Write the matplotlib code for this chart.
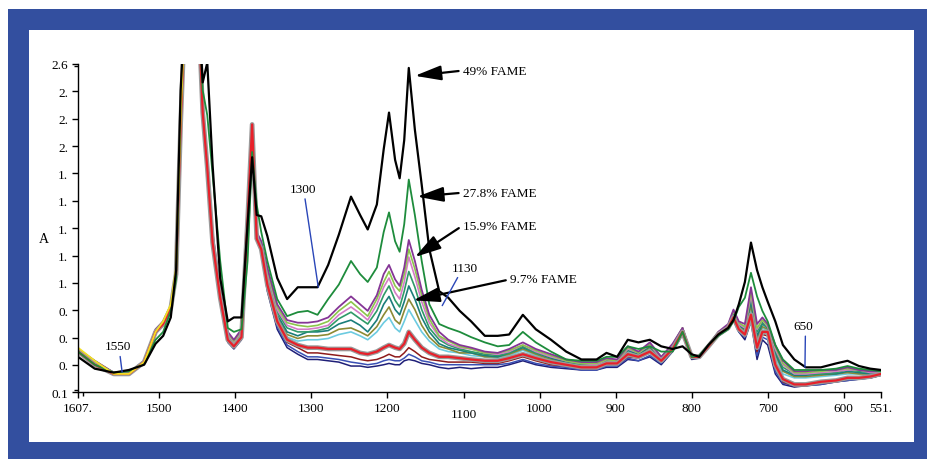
import numpy as np
import matplotlib.pyplot as plt
import matplotlib.patheffects as pe
from matplotlib.patches import Rectangle
from matplotlib.transforms import ScaledTranslation

plt.rcParams['font.family'] = ['Liberation Serif', 'DejaVu Serif']

# wavenumber grid (cm-1) the spectra were read at
wavenumber = [1607, 1585, 1560, 1540, 1520, 1505, 1495, 1485, 1478, 1472,
              1465, 1450, 1443, 1437, 1430, 1420, 1410, 1402, 1392, 1384,
              1378, 1372, 1366, 1358, 1345, 1332, 1318, 1305, 1292, 1278,
              1264, 1248, 1236, 1226, 1214, 1205, 1198, 1190, 1184, 1178,
              1172, 1164, 1155, 1145, 1132, 1120, 1105, 1090, 1072, 1055,
              1040, 1022, 1005, 985, 965, 945, 925, 912, 898, 884,
              870, 855, 840, 825, 812, 800, 790, 778, 765, 752,
              745, 738, 730, 722, 714, 707, 700, 690, 680, 665,
              650, 630, 610, 595, 580, 565, 551]

# 49% FAME (black)
spec_black = [0.37, 0.28, 0.25, 0.27, 0.31, 0.47, 0.53, 0.67, 1.03, 2.40,
              3.2, 3.2, 2.46, 2.61, 1.83, 0.97, 0.64, 0.67, 0.67, 1.38,
              1.89, 1.45, 1.44, 1.29, 0.97, 0.81, 0.90, 0.90, 0.90, 1.07,
              1.30, 1.59, 1.45, 1.34, 1.53, 1.95, 2.23, 1.87, 1.73, 2.02,
              2.57, 2.10, 1.68, 1.19, 0.87, 0.82, 0.72, 0.64, 0.53, 0.53,
              0.54, 0.69, 0.58, 0.50, 0.41, 0.35, 0.35, 0.40, 0.37, 0.50,
              0.48, 0.50, 0.45, 0.43, 0.45, 0.39, 0.37, 0.46, 0.54, 0.59,
              0.65, 0.77, 0.94, 1.24, 1.03, 0.90, 0.79, 0.64, 0.46, 0.35,
              0.29, 0.29, 0.32, 0.34, 0.30, 0.28, 0.27]
# 27.8% FAME (green)
spec_green = [0.41, 0.31, 0.25, 0.26, 0.32, 0.50, 0.56, 0.72, 0.96, 2.25,
              3.2, 3.2, 2.40, 2.21, 1.76, 1.10, 0.59, 0.56, 0.58, 1.10,
              1.93, 1.53, 1.32, 1.10, 0.81, 0.68, 0.71, 0.72, 0.69, 0.81,
              0.92, 1.10, 1.00, 0.94, 1.05, 1.32, 1.47, 1.25, 1.17, 1.38,
              1.72, 1.45, 1.10, 0.77, 0.62, 0.59, 0.56, 0.52, 0.48, 0.45,
              0.46, 0.56, 0.48, 0.41, 0.35, 0.34, 0.34, 0.37, 0.37, 0.45,
              0.43, 0.45, 0.41, 0.41, 0.56, 0.37, 0.38, 0.46, 0.53, 0.58,
              0.64, 0.75, 0.82, 1.01, 0.83, 0.72, 0.64, 0.46, 0.35, 0.27,
              0.27, 0.27, 0.28, 0.30, 0.28, 0.27, 0.26]
spec_purple = [0.43, 0.34, 0.25, 0.25, 0.34, 0.58, 0.64, 0.76, 1.02, 2.17,
               3.2, 3.2, 2.25, 1.87, 1.32, 0.88, 0.56, 0.50, 0.58, 1.45,
               2.02, 1.32, 1.25, 1.05, 0.77, 0.65, 0.63, 0.63, 0.64, 0.67,
               0.75, 0.83, 0.77, 0.72, 0.84, 1.00, 1.07, 0.96, 0.91, 1.05,
               1.26, 1.10, 0.88, 0.69, 0.56, 0.50, 0.46, 0.44, 0.41, 0.40,
               0.43, 0.48, 0.43, 0.39, 0.35, 0.33, 0.33, 0.36, 0.35, 0.45,
               0.41, 0.48, 0.37, 0.47, 0.59, 0.38, 0.38, 0.46, 0.56, 0.62,
               0.73, 0.64, 0.62, 0.90, 0.62, 0.67, 0.62, 0.46, 0.34, 0.26,
               0.26, 0.27, 0.27, 0.29, 0.27, 0.26, 0.26]
spec_lightgreen = [0.43, 0.34, 0.25, 0.25, 0.34, 0.58, 0.64, 0.76, 1.02, 2.17,
                   3.2, 3.2, 2.25, 1.86, 1.31, 0.87, 0.55, 0.49, 0.57, 1.45,
                   2.04, 1.31, 1.24, 1.03, 0.75, 0.63, 0.61, 0.60, 0.61, 0.64,
                   0.72, 0.79, 0.73, 0.68, 0.81, 0.94, 1.02, 0.91, 0.87, 1.00,
                   1.19, 1.04, 0.84, 0.66, 0.53, 0.49, 0.45, 0.43, 0.40, 0.40,
                   0.42, 0.46, 0.42, 0.38, 0.34, 0.32, 0.32, 0.35, 0.34, 0.44,
                   0.40, 0.47, 0.37, 0.46, 0.59, 0.38, 0.38, 0.46, 0.56, 0.61,
                   0.72, 0.63, 0.60, 0.87, 0.59, 0.65, 0.61, 0.45, 0.32, 0.25,
                   0.25, 0.26, 0.27, 0.28, 0.27, 0.26, 0.26]
spec_pink = [0.42, 0.33, 0.25, 0.25, 0.34, 0.57, 0.63, 0.75, 1.01, 2.16,
             3.2, 3.2, 2.24, 1.85, 1.30, 0.86, 0.54, 0.48, 0.56, 1.44,
             2.05, 1.31, 1.23, 1.01, 0.73, 0.61, 0.58, 0.58, 0.59, 0.61,
             0.69, 0.75, 0.70, 0.65, 0.77, 0.90, 0.97, 0.86, 0.81, 0.94,
             1.13, 0.98, 0.79, 0.63, 0.52, 0.47, 0.44, 0.43, 0.40, 0.39,
             0.41, 0.46, 0.41, 0.37, 0.34, 0.32, 0.31, 0.35, 0.34, 0.43,
             0.40, 0.46, 0.36, 0.46, 0.59, 0.37, 0.38, 0.46, 0.55, 0.61,
             0.72, 0.62, 0.59, 0.84, 0.58, 0.65, 0.60, 0.43, 0.31, 0.24,
             0.24, 0.25, 0.26, 0.27, 0.27, 0.25, 0.25]
spec_teal = [0.42, 0.33, 0.25, 0.25, 0.33, 0.57, 0.63, 0.75, 1.01, 2.16,
             3.2, 3.2, 2.24, 1.85, 1.28, 0.86, 0.53, 0.48, 0.55, 1.44,
             2.05, 1.30, 1.22, 1.00, 0.71, 0.59, 0.56, 0.56, 0.57, 0.59,
             0.66, 0.71, 0.66, 0.62, 0.72, 0.84, 0.91, 0.80, 0.75, 0.87,
             1.02, 0.90, 0.73, 0.59, 0.50, 0.46, 0.43, 0.41, 0.39, 0.38,
             0.40, 0.45, 0.40, 0.37, 0.34, 0.31, 0.31, 0.34, 0.34, 0.43,
             0.40, 0.46, 0.36, 0.46, 0.59, 0.37, 0.37, 0.46, 0.55, 0.60,
             0.71, 0.62, 0.59, 0.82, 0.56, 0.63, 0.59, 0.42, 0.29, 0.24,
             0.24, 0.24, 0.25, 0.27, 0.26, 0.25, 0.25]
spec_darkteal = [0.42, 0.32, 0.25, 0.25, 0.33, 0.57, 0.63, 0.75, 1.01, 2.16,
                 3.2, 3.2, 2.24, 1.84, 1.27, 0.85, 0.53, 0.47, 0.55, 1.43,
                 2.06, 1.29, 1.22, 0.98, 0.69, 0.56, 0.53, 0.56, 0.56, 0.57,
                 0.62, 0.65, 0.61, 0.56, 0.65, 0.77, 0.83, 0.73, 0.69, 0.79,
                 0.91, 0.81, 0.67, 0.56, 0.47, 0.44, 0.42, 0.40, 0.38, 0.37,
                 0.40, 0.44, 0.40, 0.36, 0.33, 0.31, 0.31, 0.34, 0.34, 0.42,
                 0.39, 0.45, 0.35, 0.45, 0.58, 0.37, 0.37, 0.46, 0.55, 0.60,
                 0.70, 0.61, 0.58, 0.79, 0.53, 0.62, 0.59, 0.40, 0.27, 0.23,
                 0.23, 0.24, 0.24, 0.26, 0.25, 0.24, 0.25]
spec_olive = [0.41, 0.32, 0.25, 0.25, 0.33, 0.57, 0.62, 0.75, 1.00, 2.16,
              3.2, 3.2, 2.23, 1.83, 1.26, 0.84, 0.52, 0.46, 0.54, 1.42,
              2.07, 1.29, 1.21, 0.96, 0.67, 0.54, 0.51, 0.53, 0.53, 0.54,
              0.58, 0.59, 0.56, 0.53, 0.60, 0.69, 0.75, 0.65, 0.62, 0.72,
              0.81, 0.73, 0.61, 0.52, 0.45, 0.43, 0.40, 0.40, 0.37, 0.37,
              0.39, 0.43, 0.39, 0.35, 0.33, 0.31, 0.31, 0.34, 0.33, 0.42,
              0.39, 0.44, 0.35, 0.45, 0.58, 0.37, 0.37, 0.46, 0.54, 0.59,
              0.69, 0.60, 0.57, 0.76, 0.51, 0.60, 0.58, 0.39, 0.26, 0.22,
              0.22, 0.23, 0.24, 0.25, 0.24, 0.24, 0.24]
spec_cyan = [0.41, 0.32, 0.24, 0.24, 0.33, 0.56, 0.62, 0.74, 1.00, 2.15,
             3.2, 3.2, 2.23, 1.82, 1.25, 0.83, 0.51, 0.46, 0.53, 1.42,
             2.08, 1.28, 1.20, 0.94, 0.65, 0.52, 0.49, 0.50, 0.50, 0.51,
             0.54, 0.56, 0.53, 0.50, 0.56, 0.63, 0.67, 0.59, 0.56, 0.64,
             0.73, 0.65, 0.56, 0.49, 0.43, 0.41, 0.40, 0.38, 0.37, 0.36,
             0.38, 0.42, 0.38, 0.34, 0.32, 0.31, 0.30, 0.33, 0.33, 0.41,
             0.38, 0.43, 0.34, 0.44, 0.57, 0.37, 0.37, 0.46, 0.54, 0.59,
             0.69, 0.59, 0.56, 0.73, 0.49, 0.59, 0.57, 0.37, 0.24, 0.21,
             0.21, 0.22, 0.23, 0.24, 0.24, 0.24, 0.24]
spec_red = [0.41, 0.31, 0.24, 0.24, 0.33, 0.56, 0.62, 0.74, 1.00, 2.15,
            3.2, 3.2, 2.23, 1.81, 1.24, 0.82, 0.50, 0.45, 0.52, 1.41,
            2.14, 1.27, 1.19, 0.92, 0.64, 0.50, 0.46, 0.44, 0.44, 0.43,
            0.43, 0.43, 0.40, 0.39, 0.41, 0.44, 0.46, 0.44, 0.43, 0.47,
            0.56, 0.50, 0.44, 0.40, 0.37, 0.37, 0.36, 0.35, 0.34, 0.34,
            0.36, 0.39, 0.36, 0.33, 0.31, 0.29, 0.29, 0.32, 0.32, 0.39,
            0.37, 0.41, 0.34, 0.43, 0.56, 0.37, 0.37, 0.45, 0.54, 0.59,
            0.67, 0.58, 0.54, 0.69, 0.44, 0.56, 0.56, 0.31, 0.20, 0.16,
            0.16, 0.18, 0.19, 0.21, 0.21, 0.22, 0.24]
spec_darkred = [0.40, 0.31, 0.24, 0.24, 0.32, 0.56, 0.61, 0.74, 1.00, 2.15,
                3.2, 3.2, 2.22, 1.80, 1.22, 0.81, 0.50, 0.44, 0.52, 1.41,
                2.11, 1.27, 1.19, 0.91, 0.62, 0.48, 0.44, 0.40, 0.40, 0.39,
                0.38, 0.37, 0.35, 0.34, 0.35, 0.37, 0.39, 0.37, 0.37, 0.40,
                0.44, 0.41, 0.37, 0.35, 0.34, 0.33, 0.33, 0.33, 0.32, 0.32,
                0.34, 0.37, 0.34, 0.31, 0.30, 0.28, 0.28, 0.31, 0.31, 0.37,
                0.36, 0.40, 0.33, 0.43, 0.56, 0.36, 0.37, 0.45, 0.53, 0.59,
                0.66, 0.57, 0.53, 0.67, 0.41, 0.54, 0.53, 0.29, 0.18, 0.15,
                0.15, 0.17, 0.18, 0.20, 0.21, 0.21, 0.23]
spec_blue = [0.40, 0.31, 0.24, 0.24, 0.32, 0.55, 0.61, 0.73, 0.99, 2.14,
             3.2, 3.2, 2.22, 1.79, 1.21, 0.80, 0.49, 0.44, 0.51, 1.40,
             2.11, 1.26, 1.18, 0.89, 0.60, 0.46, 0.41, 0.37, 0.37, 0.36,
             0.35, 0.33, 0.32, 0.31, 0.32, 0.34, 0.35, 0.34, 0.34, 0.36,
             0.39, 0.37, 0.34, 0.33, 0.31, 0.31, 0.31, 0.31, 0.31, 0.31,
             0.32, 0.35, 0.32, 0.30, 0.29, 0.27, 0.27, 0.30, 0.30, 0.36,
             0.34, 0.38, 0.32, 0.42, 0.55, 0.36, 0.37, 0.45, 0.53, 0.58,
             0.65, 0.56, 0.52, 0.65, 0.38, 0.52, 0.50, 0.26, 0.17, 0.15,
             0.15, 0.16, 0.18, 0.19, 0.20, 0.21, 0.23]
spec_navy = [0.40, 0.31, 0.24, 0.24, 0.32, 0.55, 0.61, 0.73, 0.99, 2.14,
             3.2, 3.2, 2.21, 1.78, 1.20, 0.79, 0.48, 0.43, 0.50, 1.40,
             2.10, 1.26, 1.17, 0.87, 0.58, 0.44, 0.39, 0.35, 0.35, 0.34,
             0.33, 0.30, 0.30, 0.29, 0.30, 0.31, 0.32, 0.31, 0.31, 0.34,
             0.35, 0.34, 0.32, 0.31, 0.29, 0.28, 0.29, 0.28, 0.29, 0.29,
             0.31, 0.34, 0.31, 0.29, 0.28, 0.27, 0.27, 0.29, 0.29, 0.35,
             0.34, 0.37, 0.31, 0.41, 0.54, 0.35, 0.36, 0.44, 0.53, 0.58,
             0.65, 0.56, 0.50, 0.64, 0.35, 0.50, 0.46, 0.24, 0.16, 0.14,
             0.15, 0.16, 0.18, 0.19, 0.20, 0.21, 0.23]
# yellow trace, only visible on the high-wavenumber side
yellow_wavenumber = [1607, 1585, 1560, 1540, 1520, 1505, 1495, 1485, 1478, 1472, 1465]
spec_yellow = [0.44, 0.34, 0.24, 0.24, 0.33, 0.56, 0.64, 0.77, 1.05, 2.21, 3.2]

x_ticks = [1607, 1500, 1400, 1300, 1200, 1100, 1000, 900, 800, 700, 600, 551]
x_labels = ['1607.', '1500', '1400', '1300', '1200', '1100', '1000', '900',
            '800', '700', '600', '551.']
y_labels = ['0.1', '0.', '0.', '0.', '1.', '1.', '1.', '1.', '1.',
            '2.', '2.', '2.', '2.6']

W, H = 928, 460
fig = plt.figure(figsize=(W / 100, H / 100), dpi=100)
fig.patch.set_facecolor('white')
# blue frame with white panel
fig.add_artist(Rectangle((8 / W, 0), 1 - 8 / W, (H - 10) / H, transform=fig.transFigure,
                         facecolor='#334f9f', edgecolor='none', zorder=-2))
fig.add_artist(Rectangle((29 / W, (H - 443) / H), (914 - 29) / W, (443 - 31) / H,
                         transform=fig.transFigure, facecolor='white',
                         edgecolor='none', zorder=-1))

ax = fig.add_axes([78 / W, (H - 393.3) / H, 803 / W, 328.3 / H])
ax.set_facecolor('none')

traces = [
    (spec_navy, '#1f1f78', 1.1),
    (spec_blue, '#3a50b4', 1.1),
    (spec_darkred, '#8e1b1b', 1.1),
    (spec_cyan, '#6ccbe0', 1.2),
    (spec_olive, '#8c8a34', 1.2),
    (spec_darkteal, '#1b7d7a', 1.2),
    (spec_teal, '#2f9a68', 1.2),
    (spec_pink, '#d47cc6', 1.2),
    (spec_lightgreen, '#8cc64a', 1.2),
    (spec_purple, '#853596', 1.3),
]
for vals, col, lw in traces:
    ax.plot(wavenumber, vals, color=col, lw=lw)

ax.plot(wavenumber, spec_red, color='#e8202a', lw=1.6,
        path_effects=[pe.Stroke(linewidth=3.4, foreground='#9a9a9a'), pe.Normal()])
ax.plot(wavenumber, spec_green, color='#1e8c3c', lw=1.3)
ax.plot(yellow_wavenumber, spec_yellow, color='#f2e024', lw=1.3)
ax.plot(wavenumber, spec_black, color='black', lw=1.6)

ax.set_xlim(1607, 551)
ax.set_ylim(0.1, 2.6)
ax.set_xticks(x_ticks)
ax.set_xticklabels(x_labels)
ax.set_yticks(np.linspace(0.1, 2.6, 13))
ax.set_yticklabels(y_labels)
ax.set_yticks([0.118, 2.582], minor=True)
ax.set_xticks([1601], minor=True)

for s in ['top', 'right']:
    ax.spines[s].set_visible(False)
for s in ['left', 'bottom']:
    ax.spines[s].set_linewidth(1.0)
ax.tick_params(which='major', direction='out', length=4, width=1, labelsize=9.5, pad=3)
ax.tick_params(which='minor', direction='out', length=3, width=1)

# the 1100 label sits a little lower in the original
for lab in ax.get_xticklabels():
    if lab.get_text() == '1100':
        lab.set_transform(lab.get_transform() + ScaledTranslation(0, -4 / 72, fig.dpi_scale_trans))

fig.text(44 / W, 1 - 240 / H, 'A', fontsize=10, ha='center', va='center')

# FAME arrows
arrow = dict(arrowstyle='-|>,head_length=1.6,head_width=0.45', color='black',
             lw=1.6, mutation_scale=10, shrinkA=1, shrinkB=0, relpos=(0, 0.5))
ax.annotate('49% FAME', xy=(1164, 2.51), xytext=(1101, 2.55), fontsize=9.5,
            va='center', ha='left', arrowprops=arrow)
ax.annotate('27.8% FAME', xy=(1161, 1.59), xytext=(1101, 1.62), fontsize=9.5,
            va='center', ha='left', arrowprops=arrow)
ax.annotate('15.9% FAME', xy=(1164, 1.13), xytext=(1101, 1.37), fontsize=9.5,
            va='center', ha='left', arrowprops=arrow)
ax.annotate('9.7% FAME', xy=(1166, 0.80), xytext=(1039, 0.96), fontsize=9.5,
            va='center', ha='left', arrowprops=arrow)

# wavenumber markers
mark = dict(arrowstyle='-', color='#2a46b8', lw=1.0, shrinkA=1, shrinkB=0)
ax.annotate('1550', xy=(1549, 0.255), xytext=(1554, 0.45), fontsize=9.5,
            ha='center', va='center', arrowprops=dict(mark, relpos=(0.55, 0)))
ax.annotate('1300', xy=(1291, 0.90), xytext=(1311, 1.65), fontsize=9.5,
            ha='center', va='center', arrowprops=dict(mark, relpos=(0.55, 0)))
ax.annotate('1130', xy=(1128, 0.76), xytext=(1098, 1.05), fontsize=9.5,
            ha='center', va='center', arrowprops=dict(mark, relpos=(0.3, 0)))
ax.annotate('650', xy=(651, 0.29), xytext=(653, 0.605), fontsize=9.5,
            ha='center', va='center', arrowprops=dict(mark, relpos=(0.6, 0)))

fig.savefig('out.png', dpi=100)
